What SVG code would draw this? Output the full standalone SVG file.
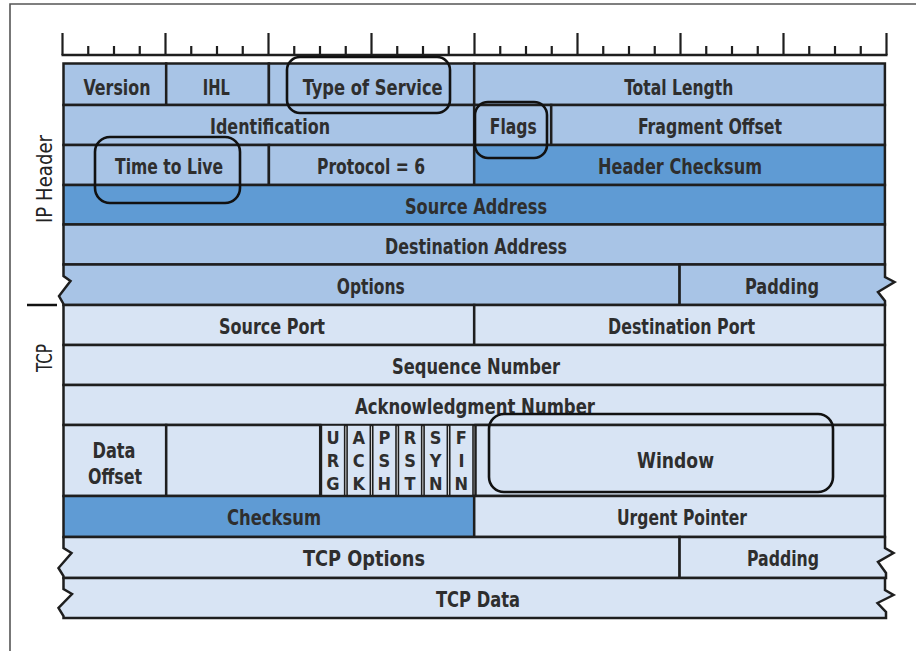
<svg xmlns="http://www.w3.org/2000/svg" width="916" height="651" viewBox="0 0 916 651">
<style>
.ip{fill:#a8c4e6;stroke:#1e1e1e;stroke-width:2.5}
.dk{fill:#5f9bd4;stroke:#1e1e1e;stroke-width:2.5}
.tc{fill:#d8e4f4;stroke:#1e1e1e;stroke-width:2.5}
.fl{fill:#d8e4f4;stroke:#1e1e1e;stroke-width:1.6}
.t{font-family:"Liberation Sans Narrow","Arial Narrow","DejaVu Sans Condensed","Liberation Sans",sans-serif;font-weight:bold;font-size:22px;fill:#2e2e2e;text-anchor:middle}
.f{font-size:18px}
.side{font-family:"Liberation Sans Narrow","Arial Narrow","DejaVu Sans Condensed","Liberation Sans",sans-serif;font-size:22px;fill:#222;text-anchor:middle}
.hl{fill:none;stroke:#111;stroke-width:2.6}
.tk{stroke:#1e1e1e;stroke-width:2.2}
</style>
<path d="M10,651 V4 H916" fill="none" stroke="#555" stroke-width="1.6"/>
<g id="ruler">
<path d="M61.5,55 H887.5" stroke="#1e1e1e" stroke-width="2.5"/>
<path class="tk" d="M62.5,33V55M165.5,33V55M268.5,33V55M371.5,33V55M474.5,33V55M577.5,33V55M680.5,33V55M783.5,33V55M886.5,33V55"/>
<path class="tk" d="M88.25,46V55M114,46V55M139.75,46V55M191.25,46V55M217,46V55M242.75,46V55M294.25,46V55M320,46V55M345.75,46V55M397.25,46V55M423,46V55M448.75,46V55M500.25,46V55M526,46V55M551.75,46V55M603.25,46V55M629,46V55M654.75,46V55M706.25,46V55M732,46V55M757.75,46V55M809.25,46V55M835,46V55M860.75,46V55"/>
</g>
<g id="side-labels">
<text class="side" transform="translate(51.5,179) rotate(-90)" textLength="88" lengthAdjust="spacingAndGlyphs">IP Header</text>
<text class="side" transform="translate(51.5,358) rotate(-90)" textLength="28" lengthAdjust="spacingAndGlyphs">TCP</text>
<path d="M27,305 H57" stroke="#111" stroke-width="2.5"/>
</g>
<g id="ip-header">
<g id="version"><rect class="ip" x="63.5" y="63.5" width="102.7" height="41.5"/><text class="t" x="117" y="94.5" textLength="67" lengthAdjust="spacingAndGlyphs">Version</text></g>
<g id="ihl"><rect class="ip" x="166.2" y="63.5" width="102.7" height="41.5"/><text class="t" x="216.3" y="94.5" textLength="27" lengthAdjust="spacingAndGlyphs">IHL</text></g>
<g id="tos"><rect class="ip" x="268.9" y="63.5" width="205.3" height="41.5"/><text class="t" x="372.7" y="94.5" textLength="140" lengthAdjust="spacingAndGlyphs">Type of Service</text></g>
<g id="total-length"><rect class="ip" x="474.2" y="63.5" width="410.7" height="41.5"/><text class="t" x="678.8" y="94.5" textLength="109" lengthAdjust="spacingAndGlyphs">Total Length</text></g>
<g id="identification"><rect class="ip" x="63.5" y="105" width="410.7" height="40"/><text class="t" x="270" y="134" textLength="120" lengthAdjust="spacingAndGlyphs">Identification</text></g>
<g id="flags"><rect class="ip" x="474.2" y="105" width="77" height="40"/><text class="t" x="513.3" y="134" textLength="47" lengthAdjust="spacingAndGlyphs">Flags</text></g>
<g id="fragment-offset"><rect class="ip" x="551.2" y="105" width="333.7" height="40"/><text class="t" x="710" y="134" textLength="144" lengthAdjust="spacingAndGlyphs">Fragment Offset</text></g>
<g id="ttl"><rect class="ip" x="63.5" y="145" width="205.4" height="40"/><text class="t" x="169" y="174" textLength="108" lengthAdjust="spacingAndGlyphs">Time to Live</text></g>
<g id="protocol"><rect class="ip" x="268.9" y="145" width="205.3" height="40"/><text class="t" x="371" y="174" textLength="108" lengthAdjust="spacingAndGlyphs">Protocol = 6</text></g>
<g id="header-checksum"><rect class="dk" x="474.2" y="145" width="410.7" height="40"/><text class="t" x="680" y="174" textLength="164" lengthAdjust="spacingAndGlyphs">Header Checksum</text></g>
<g id="source-address"><rect class="dk" x="63.5" y="185" width="821.4" height="39.5"/><text class="t" x="476" y="213.5" textLength="142" lengthAdjust="spacingAndGlyphs">Source Address</text></g>
<g id="destination-address"><rect class="ip" x="63.5" y="224.5" width="821.4" height="40"/><text class="t" x="476" y="254" textLength="182" lengthAdjust="spacingAndGlyphs">Destination Address</text></g>
<g id="ip-options"><path class="ip" d="M63.5,264.5 H679.6 V305 H63.5 V304 L59,296 L70.5,281 L63.5,276 Z"/><text class="t" x="370.8" y="293.5" textLength="68" lengthAdjust="spacingAndGlyphs">Options</text></g>
<g id="ip-padding"><path class="ip" d="M679.6,264.5 H885 V277 L894.5,282 L878,292 L885,301 V305 H679.6 Z"/><text class="t" x="782" y="293.5" textLength="74" lengthAdjust="spacingAndGlyphs">Padding</text></g>
</g>
<g id="tcp-header">
<g id="source-port"><rect class="tc" x="63.5" y="305" width="410.7" height="40"/><text class="t" x="272" y="334" textLength="106" lengthAdjust="spacingAndGlyphs">Source Port</text></g>
<g id="destination-port"><rect class="tc" x="474.2" y="305" width="410.7" height="40"/><text class="t" x="681.5" y="334" textLength="147" lengthAdjust="spacingAndGlyphs">Destination Port</text></g>
<g id="sequence-number"><rect class="tc" x="63.5" y="345" width="821.4" height="40"/><text class="t" x="476" y="374" textLength="168" lengthAdjust="spacingAndGlyphs">Sequence Number</text></g>
<g id="ack-number"><rect class="tc" x="63.5" y="385" width="821.4" height="40"/><text class="t" x="475" y="414" textLength="240" lengthAdjust="spacingAndGlyphs">Acknowledgment Number</text></g>
<g id="data-offset"><rect class="tc" x="63.5" y="425" width="102.7" height="71"/><text class="t" x="114" y="458" textLength="43" lengthAdjust="spacingAndGlyphs">Data</text><text class="t" x="115" y="484" textLength="54" lengthAdjust="spacingAndGlyphs">Offset</text></g>
<g id="reserved"><rect class="tc" x="166.2" y="425" width="154" height="71"/></g>
<g id="flag-urg"><rect class="fl" x="321.4" y="425" width="23.27" height="71"/><text class="t f" x="333" y="444">U</text><text class="t f" x="333" y="467">R</text><text class="t f" x="333" y="490">G</text></g>
<g id="flag-ack"><rect class="fl" x="347.07" y="425" width="23.27" height="71"/><text class="t f" x="358.7" y="444">A</text><text class="t f" x="358.7" y="467">C</text><text class="t f" x="358.7" y="490">K</text></g>
<g id="flag-psh"><rect class="fl" x="372.74" y="425" width="23.27" height="71"/><text class="t f" x="384.4" y="444">P</text><text class="t f" x="384.4" y="467">S</text><text class="t f" x="384.4" y="490">H</text></g>
<g id="flag-rst"><rect class="fl" x="398.41" y="425" width="23.27" height="71"/><text class="t f" x="410" y="444">R</text><text class="t f" x="410" y="467">S</text><text class="t f" x="410" y="490">T</text></g>
<g id="flag-syn"><rect class="fl" x="424.08" y="425" width="23.27" height="71"/><text class="t f" x="435.7" y="444">S</text><text class="t f" x="435.7" y="467">Y</text><text class="t f" x="435.7" y="490">N</text></g>
<g id="flag-fin"><rect class="fl" x="449.75" y="425" width="23.27" height="71"/><text class="t f" x="461.4" y="444">F</text><text class="t f" x="461.4" y="467">I</text><text class="t f" x="461.4" y="490">N</text></g>
<g id="window"><rect class="tc" x="475.5" y="425" width="409.4" height="71"/><text class="t" x="675.5" y="468" textLength="77" lengthAdjust="spacingAndGlyphs">Window</text></g>
<g id="checksum"><rect class="dk" x="63.5" y="496" width="410.7" height="41"/><text class="t" x="274" y="525" textLength="94" lengthAdjust="spacingAndGlyphs">Checksum</text></g>
<g id="urgent-pointer"><rect class="tc" x="474.2" y="496" width="410.7" height="41"/><text class="t" x="682" y="525" textLength="130" lengthAdjust="spacingAndGlyphs">Urgent Pointer</text></g>
<g id="tcp-options"><path class="tc" d="M63.5,537 H679.6 V578 H63.5 V576 L58.5,568 L71.5,553 L63.5,548 Z"/><text class="t" x="364" y="566" textLength="122" lengthAdjust="spacingAndGlyphs">TCP Options</text></g>
<g id="tcp-padding"><path class="tc" d="M679.6,537 H885 V548 L893.5,553 L878,562 L886,573 V578 H679.6 Z"/><text class="t" x="783" y="566" textLength="72" lengthAdjust="spacingAndGlyphs">Padding</text></g>
<g id="tcp-data"><path class="tc" d="M63.5,578 H885 V590 L893.5,595 L877.5,603 L886,612 V618 H63.5 V616 L58.5,608 L72,594 L63.5,589 Z"/><text class="t" x="478" y="606.5" textLength="84" lengthAdjust="spacingAndGlyphs">TCP Data</text></g>
</g>
<g id="highlights">
<rect class="hl" x="287" y="57" width="163" height="56" rx="13"/>
<rect class="hl" x="475" y="102" width="72" height="56" rx="13"/>
<rect class="hl" x="95" y="137" width="145" height="66" rx="15"/>
<rect class="hl" x="489" y="414" width="344" height="78" rx="15"/>
</g>
<g id="connectors"/>
</svg>
